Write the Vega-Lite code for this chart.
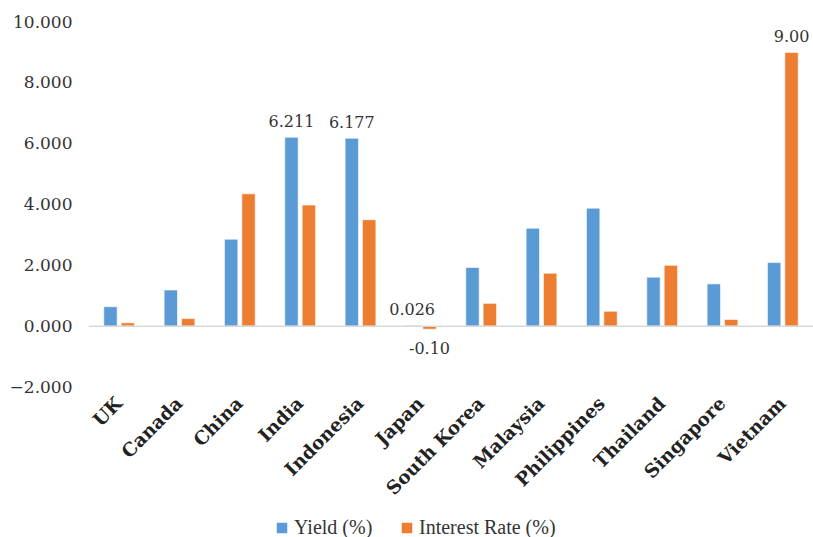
{
  "$schema": "https://vega.github.io/schema/vega-lite/v6.json",
  "autosize": "none",
  "width": 724,
  "height": 365,
  "padding": {"left": 89, "top": 22, "right": 0, "bottom": 150},
  "background": "white",
  "config": {"view": {"stroke": null}, "font": "DejaVu Serif"},
  "data": {
    "values": [
      {"country": "UK", "series": "Yield (%)", "value": 0.64, "label": ""},
      {"country": "UK", "series": "Interest Rate (%)", "value": 0.11, "label": ""},
      {"country": "Canada", "series": "Yield (%)", "value": 1.19, "label": ""},
      {"country": "Canada", "series": "Interest Rate (%)", "value": 0.25, "label": ""},
      {"country": "China", "series": "Yield (%)", "value": 2.86, "label": ""},
      {"country": "China", "series": "Interest Rate (%)", "value": 4.35, "label": ""},
      {"country": "India", "series": "Yield (%)", "value": 6.211, "label": "6.211"},
      {"country": "India", "series": "Interest Rate (%)", "value": 3.98, "label": ""},
      {"country": "Indonesia", "series": "Yield (%)", "value": 6.177, "label": "6.177"},
      {"country": "Indonesia", "series": "Interest Rate (%)", "value": 3.5, "label": ""},
      {"country": "Japan", "series": "Yield (%)", "value": 0.026, "label": "0.026"},
      {"country": "Japan", "series": "Interest Rate (%)", "value": -0.1, "label": "-0.10"},
      {"country": "South Korea", "series": "Yield (%)", "value": 1.93, "label": ""},
      {"country": "South Korea", "series": "Interest Rate (%)", "value": 0.75, "label": ""},
      {"country": "Malaysia", "series": "Yield (%)", "value": 3.22, "label": ""},
      {"country": "Malaysia", "series": "Interest Rate (%)", "value": 1.74, "label": ""},
      {"country": "Philippines", "series": "Yield (%)", "value": 3.88, "label": ""},
      {"country": "Philippines", "series": "Interest Rate (%)", "value": 0.49, "label": ""},
      {"country": "Thailand", "series": "Yield (%)", "value": 1.61, "label": ""},
      {"country": "Thailand", "series": "Interest Rate (%)", "value": 2.0, "label": ""},
      {"country": "Singapore", "series": "Yield (%)", "value": 1.39, "label": ""},
      {"country": "Singapore", "series": "Interest Rate (%)", "value": 0.22, "label": ""},
      {"country": "Vietnam", "series": "Yield (%)", "value": 2.09, "label": ""},
      {"country": "Vietnam", "series": "Interest Rate (%)", "value": 9.0, "label": "9.00"}
    ]
  },
  "encoding": {
    "x": {
      "field": "country",
      "type": "nominal",
      "sort": null,
      "scale": {"paddingInner": 0.49, "paddingOuter": 0.245},
      "axis": {
        "title": null,
        "domain": false,
        "ticks": false,
        "labelAngle": -45,
        "labelAlign": "right",
        "labelBaseline": "middle",
        "labelPadding": 13,
        "labelFont": "DejaVu Serif",
        "labelFontWeight": "bold",
        "labelFontSize": 18.5,
        "labelColor": "#222222",
        "labelOverlap": false
      }
    },
    "xOffset": {
      "field": "series",
      "type": "nominal",
      "sort": ["Yield (%)", "Interest Rate (%)"],
      "scale": {"paddingInner": 0.23}
    },
    "y": {
      "field": "value",
      "type": "quantitative",
      "scale": {"domain": [-2, 10], "nice": false, "zero": false},
      "axis": {
        "title": null,
        "domain": false,
        "ticks": false,
        "grid": false,
        "values": [-2, 0, 2, 4, 6, 8, 10],
        "format": ".3f",
        "labelPadding": 17,
        "labelFont": "DejaVu Serif",
        "labelFontSize": 17,
        "labelColor": "#333333"
      }
    }
  },
  "layer": [
    {
      "mark": {"type": "bar", "stroke": "white", "strokeWidth": 0.6},
      "encoding": {
        "color": {
          "field": "series",
          "type": "nominal",
          "sort": ["Yield (%)", "Interest Rate (%)"],
          "scale": {"domain": ["Yield (%)", "Interest Rate (%)"], "range": ["#5B9BD5", "#ED7D31"]},
          "legend": {
            "title": null,
            "orient": "none",
            "legendX": 183,
            "legendY": 496,
            "direction": "horizontal",
            "symbolType": "square",
            "symbolSize": 110,
            "symbolStrokeWidth": 0,
            "labelFont": "Liberation Serif",
            "labelFontSize": 20,
            "labelColor": "#333333",
            "labelOffset": 2,
            "columnPadding": 24
          }
        }
      }
    },
    {
      "data": {"values": [{"z": 0}]},
      "mark": {"type": "rule", "color": "#d9d9d9", "strokeWidth": 1.5},
      "encoding": {"y": {"field": "z", "type": "quantitative"}, "x": null, "xOffset": null}
    },
    {
      "transform": [{"filter": "datum.label != '' && datum.value >= 0"}],
      "mark": {"type": "text", "baseline": "alphabetic", "dy": -10, "fontSize": 16, "font": "DejaVu Serif", "color": "#333333"},
      "encoding": {"text": {"field": "label"}}
    },
    {
      "transform": [{"filter": "datum.label != '' && datum.value < 0"}],
      "mark": {"type": "text", "baseline": "top", "dy": 12, "fontSize": 16, "font": "DejaVu Serif", "color": "#333333"},
      "encoding": {"text": {"field": "label"}}
    }
  ]
}
